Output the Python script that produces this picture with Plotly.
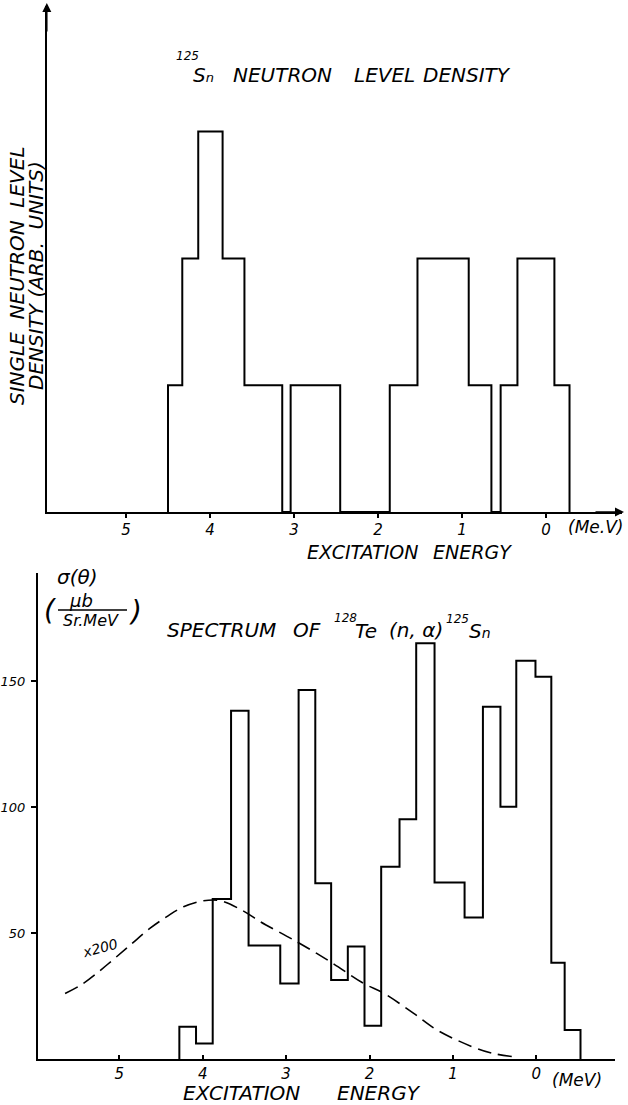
import plotly.graph_objects as go

# ---------------- data ----------------
# Top panel: single neutron level density (arb. units), bin edges in MeV (excitation energy)
top_edges = [4.50, 4.33, 4.14, 3.85, 3.59, 3.14, 3.04, 2.45, 1.86, 1.53, 0.92, 0.65, 0.54, 0.34, -0.10, -0.28]
top_levels = [1, 2, 3, 2, 1, 0, 1, 0, 1, 2, 1, 0, 1, 2, 1]

# Bottom panel: spectrum of 128Te(n,alpha)125Sn, sigma (ub / sr.MeV)
spec_edges = [4.28, 4.08, 3.88, 3.66, 3.45, 3.07, 2.85, 2.65, 2.46, 2.26, 2.06, 1.86,
              1.64, 1.44, 1.22, 0.86, 0.64, 0.43, 0.24, 0.01, -0.18, -0.34, -0.53]
spec_values = [12.8, 6.2, 63.5, 138.2, 45.0, 30.0, 146.4, 69.7, 31.3, 44.6, 13.2,
               76.3, 95.1, 165.0, 70.0, 56.2, 139.8, 100.1, 158.0, 151.7, 38.2, 11.5]

# Dashed curve (x200)
curve_E = [5.65, 5.43, 5.15, 4.87, 4.63, 4.43, 4.23, 3.99, 3.79, 3.50, 3.31, 2.87,
           2.47, 2.07, 1.83, 1.47, 1.19, 0.77, 0.53, 0.27]
curve_v = [26.0, 30.0, 37.3, 45.2, 51.9, 56.5, 60.4, 62.8, 62.8, 58.5, 54.5, 46.5,
           38.6, 30.0, 26.1, 18.1, 11.5, 4.9, 2.3, 0.9]

tick_vals = [5, 4, 3, 2, 1, 0]
tick_text = ["5", "4", "3", "2", "1", "0"]
y_tick_vals = [50, 100, 150]
y_tick_text = ["50", "100", "150"]

# ---------------- helpers ----------------
W, H = 628, 1105
FONT = "DejaVu Sans"


def px(x, y):
    return x / W, 1 - y / H


def step_xy(edges, vals):
    xs = [edges[0]] + list(edges)
    ys = [0] + list(vals) + [0]
    return xs, ys


fig = go.Figure()

tx, ty = step_xy(top_edges, top_levels)
fig.add_trace(go.Scatter(x=tx, y=ty, mode="lines", line=dict(color="black", width=2, shape="hv"),
                         xaxis="x", yaxis="y", hoverinfo="skip"))

sx, sy = step_xy(spec_edges, spec_values)
fig.add_trace(go.Scatter(x=sx, y=sy, mode="lines", line=dict(color="black", width=2, shape="hv"),
                         xaxis="x2", yaxis="y2", hoverinfo="skip"))

fig.add_trace(go.Scatter(x=curve_E, y=curve_v, mode="lines",
                         line=dict(color="black", width=1.6, shape="spline", dash="14px,7px"),
                         xaxis="x2", yaxis="y2", hoverinfo="skip"))

tickfont = dict(family=FONT, size=15, color="black", style="italic")

# top panel geometry
x0_top, x1_top, ybase_top, ytop_top = 46.8, 622, 512, 6
fig.update_layout(
    xaxis=dict(domain=[x0_top / W, x1_top / W], range=[(546 - x0_top) / 84, (546 - x1_top) / 84],
               showline=True, linecolor="black", linewidth=2, showgrid=False, zeroline=False,
               tickvals=tick_vals, ticktext=tick_text, ticks="outside", ticklen=4, tickwidth=1.5,
               tickcolor="black", tickfont=tickfont, ticklabelstandoff=-1, anchor="y"),
    yaxis=dict(domain=[1 - ybase_top / H, 1 - ytop_top / H], range=[0, (ybase_top - ytop_top) / 126.8],
               showline=True, linecolor="black", linewidth=2, showgrid=False, zeroline=False,
               showticklabels=False, ticks="", anchor="x"),
)

# bottom panel geometry
x0_b, x1_b, ybase_b, ytop_b = 38, 615, 1059, 573
fig.update_layout(
    xaxis2=dict(domain=[x0_b / W, x1_b / W], range=[(536.3 - x0_b) / 83.4, (536.3 - x1_b) / 83.4],
                showline=True, linecolor="black", linewidth=2, showgrid=False, zeroline=False,
                tickvals=tick_vals, ticktext=tick_text, ticks="inside", ticklen=4, tickwidth=1.5,
                tickcolor="black", tickfont=tickfont, anchor="y2"),
    yaxis2=dict(domain=[1 - ybase_b / H, 1 - ytop_b / H], range=[0, (ybase_b - ytop_b) / 2.52],
                showline=True, linecolor="black", linewidth=2, showgrid=False, zeroline=False,
                tickvals=y_tick_vals, ticktext=y_tick_text, ticks="outside", ticklen=5, tickwidth=1.5,
                tickcolor="black", tickfont=dict(family=FONT, size=13, color="black", style="italic"),
                ticklabelstandoff=3, anchor="x2"),
)

ann = []


def text(t, x, y, size=17, angle=0, xanchor="center"):
    ax_, ay_ = px(x, y)
    ann.append(dict(text=t, x=ax_, y=ay_, xref="paper", yref="paper", showarrow=False,
                    xanchor=xanchor, yanchor="middle", textangle=angle,
                    font=dict(family=FONT, size=size, color="black", style="italic")))


# top title
text("125", 187, 56, 12)
text("S<span style='font-size:13px'>n</span>", 203, 75, 20)
text("NEUTRON", 282, 75, 20)
text("LEVEL", 384, 75, 20)
text("DENSITY", 467, 75, 20)
# top y title
text("SINGLE  NEUTRON  LEVEL", 17, 276, 20, angle=-90)
text("DENSITY (ARB.  UNITS)", 36, 276, 20, angle=-90)
# top x title
text("EXCITATION", 362, 552, 19)
text("ENERGY", 472, 552, 19)
text("(Me.V)", 595, 527, 17)

# bottom labels
text("σ(θ)", 77, 577, 20)
text("(", 50, 610, 28)
text("μb", 81, 600, 18)
text("Sr.MeV", 91, 620, 16)
text(")", 135, 611, 28)
text("SPECTRUM", 222, 630, 20)
text("OF", 307, 630, 20)
text("128", 345, 618, 12)
text("Te", 366, 631, 20)
text("(n, α)", 416, 630, 20)
text("125", 457, 619, 12)
text("S<span style='font-size:14px'>n</span>", 480, 631, 20)
text("x200", 100, 948, 14, angle=-15)
text("EXCITATION", 241, 1093, 20)
text("ENERGY", 379, 1093, 20)
text("(MeV)", 577, 1080, 17)


# arrows
def arrow(xh, yh, dx, dy):
    ax_, ay_ = px(xh, yh)
    ann.append(dict(text="", x=ax_, y=ay_, xref="paper", yref="paper", showarrow=True,
                    ax=dx, ay=dy, arrowhead=2, arrowsize=1.2, arrowwidth=1.5, arrowcolor="black",
                    standoff=0, startstandoff=0))


arrow(46.8, 3, 0, 30)
arrow(624, 512, -30, 0)

shapes = []
# fraction bar
shapes.append(dict(type="line", xref="paper", yref="paper",
                   x0=58 / W, x1=127 / W, y0=1 - 610 / H, y1=1 - 610 / H,
                   line=dict(color="black", width=1.3)))

fig.update_layout(annotations=ann, shapes=shapes, width=W, height=H,
                  margin=dict(l=0, r=0, t=0, b=0), showlegend=False,
                  paper_bgcolor="white", plot_bgcolor="white")

fig.write_html("out.html")
